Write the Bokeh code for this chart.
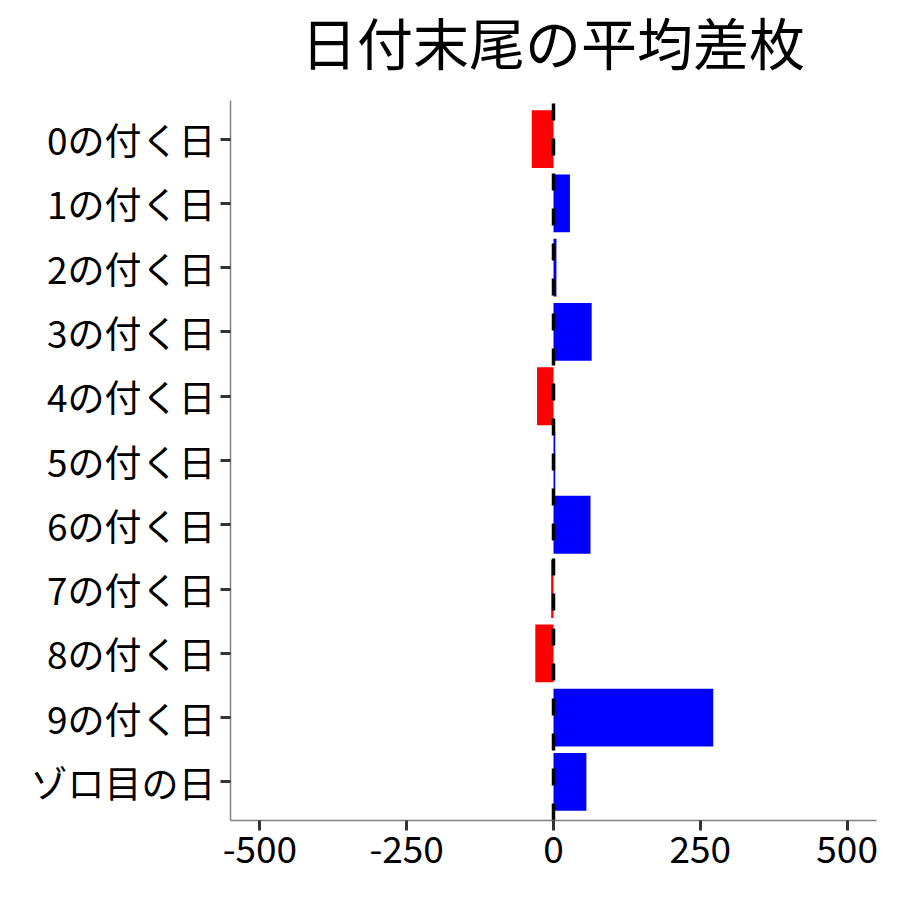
from bokeh.plotting import figure
from bokeh.models import ColumnDataSource, FactorRange, Range1d, FixedTicker, Div
from bokeh.layouts import column
from bokeh.embed import file_html
from bokeh.resources import INLINE

# ---- data ----
categories = ["0の付く日", "1の付く日", "2の付く日", "3の付く日", "4の付く日",
              "5の付く日", "6の付く日", "7の付く日", "8の付く日", "9の付く日",
              "ゾロ目の日"]
values = [-37, 28, 5, 65, -28, 3, 63, -4, -31, 272, 56]
x_ticks = [-500, -250, 0, 250, 500]
title_text = "日付末尾の平均差枚"

FONT = "Noto Sans CJK JP"
colors = ["#FF0000" if v < 0 else "#0000FF" for v in values]
src = ColumnDataSource(dict(cat=categories, val=values, col=colors))

LEFT = 230
W = 884
p = figure(width=W, height=784, output_backend="svg", toolbar_location=None,
           y_range=FactorRange(factors=list(reversed(categories)),
                               range_padding=0.1, range_padding_units="absolute"),
           x_range=Range1d(-550, 550),
           min_border_left=LEFT, min_border_right=8,
           min_border_top=0, min_border_bottom=64)
p.title.visible = False

p.hbar(y="cat", left=0, right="val", height=0.9, fill_color="col",
       line_color=None, source=src)

n = len(categories)
p.segment(x0=0, y0=-0.1, x1=0, y1=n + 0.1, line_color="black",
          line_width=3.5, line_dash="17 18")

p.xgrid.visible = False
p.ygrid.visible = False
p.outline_line_color = None
p.background_fill_color = "white"
p.border_fill_color = "white"

p.xaxis.ticker = FixedTicker(ticks=x_ticks)
p.xaxis.major_label_overrides = {t: str(t) for t in x_ticks}
for ax in (p.xaxis[0], p.yaxis[0]):
    ax.axis_line_color = "#808080"
    ax.axis_line_width = 1.5
    ax.major_tick_line_color = "#333333"
    ax.major_tick_line_width = 3
    ax.major_tick_out = 10
    ax.major_tick_in = 0
    ax.minor_tick_line_color = None
    ax.major_label_text_font = FONT
    ax.major_label_text_font_size = "37px"
    ax.major_label_text_color = "black"
    ax.major_label_standoff = 5

frame_w = W - LEFT - 8
title_div = Div(
    text=(f'<div style="margin-left:{LEFT}px;width:{frame_w}px;text-align:center;'
          f"font-family:'{FONT}';font-size:56px;line-height:normal;"
          f'padding:0;color:black;white-space:nowrap">{title_text}</div>'),
    width=W, height=100, margin=(0, 0, 0, 0))

layout = column(title_div, p, spacing=0)

out = file_html(layout, INLINE)
open("out.html", "w").write(out)
